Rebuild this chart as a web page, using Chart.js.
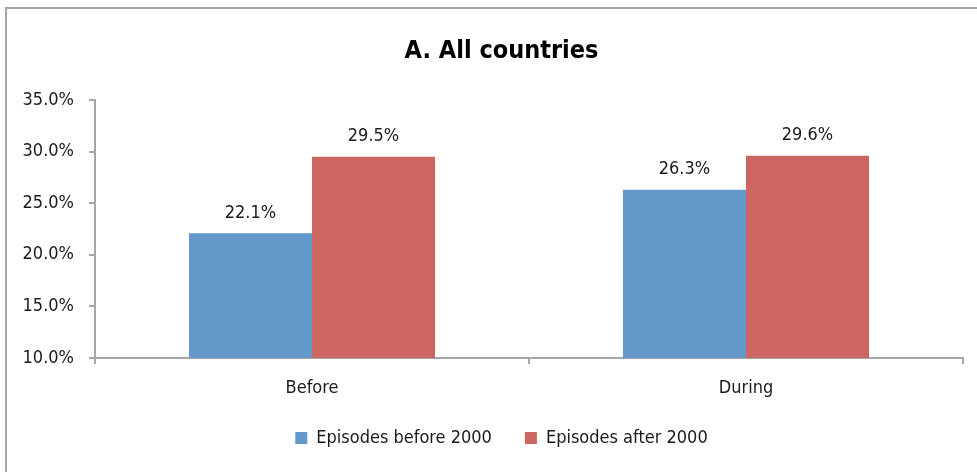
<!DOCTYPE html>
<html>
<head>
<meta charset="utf-8">
<script src="https://cdn.jsdelivr.net/npm/chart.js@4"></script>
<style>
    html, body { margin: 0; padding: 0; background: #fff; overflow: hidden; }
    #frame { position: absolute; left: 5px; top: 7px; width: 1000px; height: 500px; border: 2px solid #a6a6a6; }
    #wrap { position: absolute; left: 0; top: 0; width: 977px; height: 472px; }
</style>
</head>
<body>
<div id="frame"></div>
<div id="wrap"><canvas id="chart"></canvas></div>
<script>
const categories = ['Before', 'During'];
const before2000 = [22.1, 26.3];
const after2000 = [29.5, 29.6];
const yTicks = [10, 15, 20, 25, 30, 35];

const FONT = "'Liberation Sans Narrow', 'Arial Narrow', 'DejaVu Sans Condensed', sans-serif";
const AXIS = '#a6a6a6';

// value labels above each bar
const barLabels = {
    id: 'barLabels',
    afterDatasetsDraw(chart) {
        const ctx = chart.ctx;
        ctx.save();
        ctx.font = '18px ' + FONT;
        ctx.fillStyle = '#1a1a1a';
        ctx.textAlign = 'center';
        ctx.textBaseline = 'middle';
        chart.data.datasets.forEach((ds, i) => {
            chart.getDatasetMeta(i).data.forEach((bar, j) => {
                ctx.fillText(ds.data[j].toFixed(1) + '%', bar.x, bar.y - 20);
            });
        });
        ctx.restore();
    }
};

// the original centres title and legend on the whole frame, not the plot
const centreOnFrame = {
    id: 'centreOnFrame',
    afterLayout(chart) {
        [chart.titleBlock, chart.legend].forEach(box => {
            box.left += 20;
            box.right += 20;
        });
        chart.legend.top -= 5;
        chart.legend.bottom -= 5;
    }
};

new Chart(document.getElementById('chart'), {
    type: 'bar',
    data: {
        labels: categories,
        datasets: [{
            label: 'Episodes before 2000',
            data: before2000,
            backgroundColor: '#6497ca',
            categoryPercentage: 0.567,
            barPercentage: 1
        }, {
            label: 'Episodes after 2000',
            data: after2000,
            backgroundColor: '#cc6660',
            categoryPercentage: 0.567,
            barPercentage: 1
        }]
    },
    options: {
        responsive: true,
        maintainAspectRatio: false,
        animation: false,
        layout: { padding: { left: 0, right: 14, top: 0, bottom: 10 } },
        plugins: {
            title: {
                display: true,
                text: 'A. All countries',
                color: '#000',
                font: { family: FONT, size: 25, weight: 'bold' },
                padding: { top: 36, bottom: 34 }
            },
            legend: {
                position: 'bottom',
                labels: {
                    color: '#1a1a1a',
                    font: { family: FONT, size: 18 },
                    boxWidth: 12,
                    boxHeight: 12,
                    padding: 33
                }
            },
            tooltip: { enabled: false }
        },
        scales: {
            y: {
                min: 10,
                max: 35,
                afterBuildTicks: scale => { scale.ticks = yTicks.map(v => ({ value: v })); },
                afterFit: scale => { scale.width = 95; },
                border: { color: AXIS, width: 2 },
                grid: { drawOnChartArea: false, color: AXIS, lineWidth: 2, tickLength: 6 },
                ticks: {
                    color: '#1a1a1a',
                    font: { family: FONT, size: 18 },
                    padding: 15,
                    callback: v => v.toFixed(1) + '%'
                }
            },
            x: {
                afterFit: scale => { scale.height = 43; },
                border: { color: AXIS, width: 2 },
                grid: { drawOnChartArea: false, color: AXIS, lineWidth: 2, tickLength: 6 },
                ticks: {
                    color: '#1a1a1a',
                    font: { family: FONT, size: 18 },
                    padding: 14
                }
            }
        }
    },
    plugins: [barLabels, centreOnFrame]
});
</script>
</body>
</html>
